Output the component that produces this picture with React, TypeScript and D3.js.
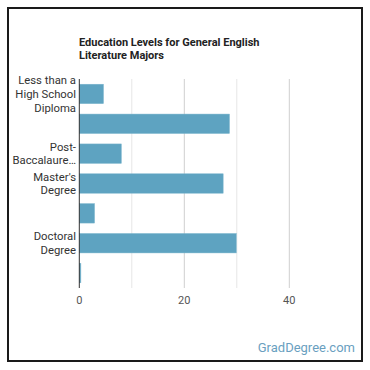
import React from "react";
import * as d3 from "d3";

const categories: string[][] = [
  ["Less than a", "High School", "Diploma"],
  [],
  ["Post-", "Baccalaure…"],
  ["Master's", "Degree"],
  [],
  ["Doctoral", "Degree"],
  [],
];
const values: number[] = [4.6, 28.6, 8.0, 27.4, 2.9, 29.9, 0.3];
const gridValues: number[] = [10, 20, 30, 40];
const tickLabels: number[] = [0, 20, 40];
const titleLines: string[] = ["Education Levels for General English", "Literature Majors"];

const FONT = "Roboto, 'Open Sans', Arial, sans-serif";

export default function App() {
  const x = d3.scaleLinear().domain([0, 50]).range([79.3, 341.8]);
  const y = d3
    .scaleBand<number>()
    .domain(values.map((_, i) => i))
    .range([79, 288])
    .paddingInner(0.35)
    .paddingOuter(0.175);
  const top = 79;
  const bottom = 288;
  return (
    <svg
      width={370}
      height={370}
      style={{ position: "absolute", left: 0, top: 0, background: "#fff" }}
    >
      <rect x={8} y={8} width={354} height={353} fill="#fff" stroke="#1a1a1a" strokeWidth={2} />
      {titleLines.map((t, i) => (
        <text
          key={i}
          x={79}
          y={45.5 + i * 13.5}
          fontFamily={FONT}
          fontWeight="bold"
          fontSize={11}
          fill="#222"
        >
          {t}
        </text>
      ))}
      {gridValues.map((v) => (
        <line
          key={v}
          x1={x(v)}
          x2={x(v)}
          y1={top}
          y2={bottom}
          stroke={v % 20 === 0 ? "#cfcfcf" : "#e6e6e6"}
          strokeWidth={1}
        />
      ))}
      {values.map((v, i) => (
        <rect
          key={i}
          x={x(0)}
          y={y(i)!}
          width={x(v) - x(0)}
          height={y.bandwidth()}
          fill="#5ea3c1"
          stroke="#79b4cc"
          strokeWidth={0.5}
        />
      ))}
      <line x1={x(0)} x2={x(0)} y1={top} y2={bottom} stroke="#333" strokeWidth={1} />
      {categories.map((lines, i) => {
        const cy = y(i)! + y.bandwidth() / 2;
        const lh = 13.7;
        const start = cy - ((lines.length - 1) * lh) / 2;
        return lines.map((l, j) => (
          <text
            key={i + "-" + j}
            x={76}
            y={start + j * lh}
            dy="0.35em"
            textAnchor="end"
            fontFamily={FONT}
            fontSize={11.3}
            fill="#333"
          >
            {l}
          </text>
        ));
      })}
      {tickLabels.map((v) => (
        <text
          key={v}
          x={x(v)}
          y={300.5}
          dy="0.35em"
          textAnchor="middle"
          fontFamily={FONT}
          fontSize={11}
          fill="#555"
        >
          {v}
        </text>
      ))}
      <text
        x={355}
        y={352}
        textAnchor="end"
        fontFamily={FONT}
        fontSize={13}
        fill="#6a9fbf"
      >
        GradDegree.com
      </text>
    </svg>
  );
}
